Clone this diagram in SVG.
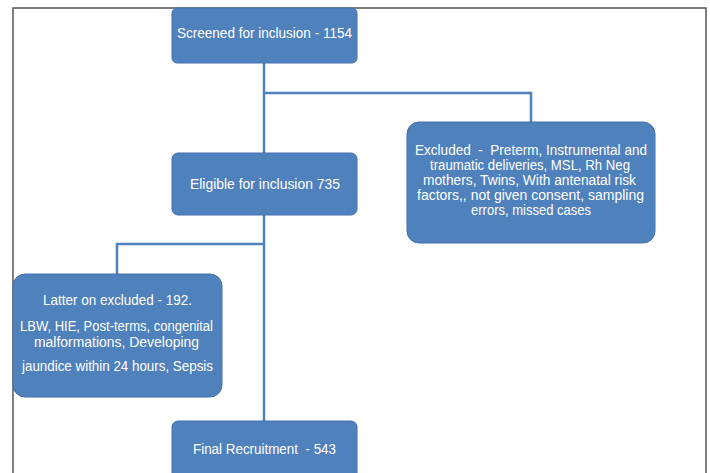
<svg xmlns="http://www.w3.org/2000/svg" width="710" height="473" viewBox="0 0 710 473">
<style>
.box{fill:#4F81BD;stroke:#4372AC;stroke-width:1}
.t{fill:#ffffff;font-family:"Liberation Sans",Arial,sans-serif;font-size:14px;text-anchor:middle;white-space:pre}
.c{fill:none;stroke:#4F81BD;stroke-width:2.5}
</style>
<rect x="0" y="0" width="710" height="473" fill="#ffffff"/>
<path d="M13,480 V8 H706 V480" fill="none" stroke="#555555" stroke-width="1.5"/>
<g id="connectors">
<path class="c" d="M264,63 V153"/>
<path class="c" d="M264,93 H531 V122"/>
<path class="c" d="M264,215 V421"/>
<path class="c" d="M264,244 H117 V274"/>
</g>
<g id="screened">
<rect class="box" x="172" y="8" width="185" height="55" rx="5"/>
<text class="t" x="264.5" y="38" textLength="175" lengthAdjust="spacingAndGlyphs">Screened for inclusion - 1154</text>
</g>
<g id="eligible">
<rect class="box" x="172" y="153" width="185" height="62" rx="6"/>
<text class="t" x="265" y="189" textLength="150" lengthAdjust="spacingAndGlyphs">Eligible for inclusion 735</text>
</g>
<g id="excluded">
<rect class="box" x="407" y="122" width="248" height="121" rx="12"/>
<text class="t" x="531" y="155" textLength="232" lengthAdjust="spacingAndGlyphs" xml:space="preserve">Excluded  -  Preterm, Instrumental and</text>
<text class="t" x="530" y="170" textLength="200" lengthAdjust="spacingAndGlyphs">traumatic deliveries, MSL, Rh Neg</text>
<text class="t" x="529.5" y="185" textLength="213" lengthAdjust="spacingAndGlyphs">mothers, Twins, With antenatal risk</text>
<text class="t" x="530.5" y="200" textLength="227" lengthAdjust="spacingAndGlyphs">factors,, not given consent, sampling</text>
<text class="t" x="531" y="215" textLength="120" lengthAdjust="spacingAndGlyphs">errors, missed cases</text>
</g>
<g id="later-excluded">
<rect class="box" x="13" y="274" width="209" height="123" rx="12"/>
<text class="t" x="117.5" y="305" textLength="149" lengthAdjust="spacingAndGlyphs">Latter on excluded - 192.</text>
<text class="t" x="116.5" y="331" textLength="193" lengthAdjust="spacingAndGlyphs">LBW, HIE, Post-terms, congenital</text>
<text class="t" x="116.5" y="347" textLength="165" lengthAdjust="spacingAndGlyphs">malformations, Developing</text>
<text class="t" x="117.5" y="371" textLength="191" lengthAdjust="spacingAndGlyphs">jaundice within 24 hours, Sepsis</text>
</g>
<g id="final">
<rect class="box" x="172" y="421" width="185" height="62" rx="6"/>
<text class="t" x="264.5" y="454" textLength="143" lengthAdjust="spacingAndGlyphs" xml:space="preserve">Final Recruitment  - 543</text>
</g>
</svg>
